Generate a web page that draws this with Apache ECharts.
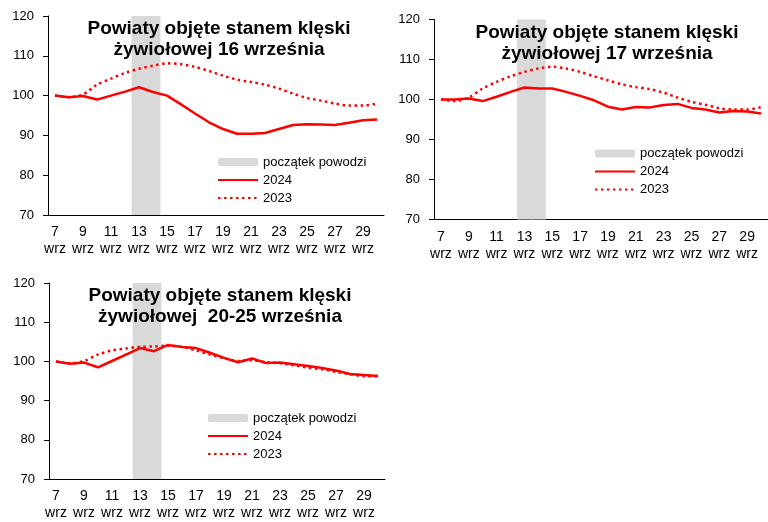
<!DOCTYPE html>
<html>
<head>
<meta charset="utf-8">
<script src="https://cdn.jsdelivr.net/npm/echarts@6/dist/echarts.min.js"></script>
<style>
  html, body { margin: 0; padding: 0; background: #fff; }
  #chart { width: 768px; height: 522px; }
</style>
</head>
<body>
<div id="chart"></div>
<script>
// Categories: days of September
const days = ['7','8','9','10','11','12','13','14','15','16','17','18','19','20','21','22','23','24','25','26','27','28','29','30'];
const monthLabel = 'wrz';
const yTicks = { min: 70, max: 120, interval: 10 };

// Flood start (13-14 Sept) marker
const floodDays = ['13', '14'];
const floodTop = 120;

// Panel 1: counties under natural disaster status from 16 Sept
const p1_2024 = [100, 99.6, 99.9, 99.0, 100.0, 101.0, 102.1, 100.9, 100.0, 97.8, 95.5, 93.3, 91.6, 90.4, 90.4, 90.6, 91.6, 92.6, 92.8, 92.75, 92.6, 93.2, 93.8, 94.0];
const p1_2023 = [100, 99.6, 100.3, 102.75, 104.25, 105.7, 106.75, 107.5, 108.1, 107.9, 107.2, 106.2, 105.0, 104.0, 103.4, 102.75, 101.75, 100.5, 99.4, 98.75, 98.0, 97.5, 97.5, 98.0];

// Panel 2: from 17 Sept
const p2_2024 = [100, 100, 100.25, 99.6, 100.7, 101.9, 103.0, 102.75, 102.75, 101.9, 100.9, 99.8, 98.2, 97.5, 98.1, 98.0, 98.6, 98.9, 97.9, 97.5, 96.75, 97.1, 97.0, 96.5];
const p2_2023 = [100, 99.6, 100.5, 102.75, 104.4, 105.8, 106.9, 107.75, 108.2, 107.75, 106.9, 105.8, 104.8, 103.8, 103.1, 102.6, 101.7, 100.5, 99.4, 98.7, 97.8, 97.5, 97.5, 98.1];

// Panel 3: from 20-25 Sept
const p3_2024 = [100, 99.4, 99.7, 98.5, 100.1, 101.75, 103.4, 102.6, 104.2, 103.7, 103.4, 102.2, 100.9, 99.8, 100.75, 99.6, 99.7, 99.3, 98.8, 98.3, 97.7, 96.8, 96.5, 96.3];
const p3_2023 = [100, 99.5, 100.1, 101.75, 102.8, 103.3, 103.7, 103.8, 104.0, 103.7, 102.8, 101.75, 100.8, 100.1, 100.3, 99.8, 99.5, 99.0, 98.4, 98.0, 97.3, 96.75, 96.2, 96.2];

const titles = [
  'Powiaty objęte stanem klęski\nżywiołowej 16 września',
  'Powiaty objęte stanem klęski\nżywiołowej 17 września',
  'Powiaty objęte stanem klęski\nżywiołowej  20-25 września'
];
const legendNames = ['początek powodzi', '2024', '2023'];

const panels = [
  { d24: p1_2024, d23: p1_2023 },
  { d24: p2_2024, d23: p2_2023 },
  { d24: p3_2024, d23: p3_2023 }
];

const floodData = days.map(d => floodDays.includes(d) ? floodTop : null);

const FONT = '"Liberation Sans", Arial, sans-serif';
const RED = '#ff0000';
const GREY = '#d9d9d9';

const grids = [
  { left: 48, top: 16, width: 336, height: 199 },
  { left: 434, top: 19.5, width: 339, height: 200 },
  { left: 49, top: 283, width: 336, height: 199.5 }
];
const titlePos = [
  { left: 219, top: 18 },
  { left: 607, top: 22 },
  { left: 220, top: 285 }
];
const legendPos = [
  { left: 217, top: 153 },
  { left: 594, top: 144.5 },
  { left: 207, top: 409 }
];

const legendData = [
  { name: legendNames[0] },
  { name: legendNames[1], itemStyle: { opacity: 0 } },
  { name: legendNames[2], itemStyle: { opacity: 0 } }
];

const option = {
  animation: false,
  backgroundColor: '#fff',
  title: titles.map((t, i) => ({
    text: t,
    left: titlePos[i].left,
    top: titlePos[i].top,
    textAlign: 'center',
    padding: 0,
    textStyle: { fontFamily: FONT, fontSize: 19, fontWeight: 'bold', color: '#000', lineHeight: 21 }
  })),
  legend: legendPos.map(p => ({
    data: legendData,
    orient: 'vertical',
    left: p.left,
    top: p.top,
    padding: 0,
    itemGap: 0,
    itemWidth: 40,
    itemHeight: 8,
    selectedMode: false,
    textStyle: { fontFamily: FONT, fontSize: 13, color: '#000', lineHeight: 18 }
  })),
  grid: grids,
  xAxis: grids.map((g, i) => ({
    type: 'category',
    gridIndex: i,
    data: days,
    boundaryGap: true,
    axisLine: { lineStyle: { color: '#000', width: 1 } },
    axisTick: { interval: 1, length: 5, lineStyle: { color: '#000' } },
    axisLabel: {
      interval: 1,
      margin: 9,
      fontFamily: FONT,
      fontSize: 14,
      lineHeight: 17,
      color: '#000',
      formatter: v => v + '\n' + monthLabel
    },
    splitLine: { show: false }
  })),
  yAxis: grids.map((g, i) => ({
    type: 'value',
    gridIndex: i,
    min: yTicks.min,
    max: yTicks.max,
    interval: yTicks.interval,
    axisLine: { show: true, lineStyle: { color: '#000', width: 1 } },
    axisTick: { show: true, length: 5, lineStyle: { color: '#000' } },
    axisLabel: { margin: 14, fontFamily: FONT, fontSize: 13, color: '#000' },
    splitLine: { show: false }
  })),
  series: []
};

panels.forEach((p, i) => {
  option.series.push({
    name: legendNames[0],
    type: 'bar',
    xAxisIndex: i,
    yAxisIndex: i,
    data: floodData,
    barWidth: '106%',
    barGap: '0%',
    barCategoryGap: '0%',
    itemStyle: { color: GREY },
    z: 1
  });
  option.series.push({
    name: legendNames[1],
    type: 'line',
    xAxisIndex: i,
    yAxisIndex: i,
    data: p.d24,
    symbol: 'none',
    lineStyle: { color: RED, width: 2.5, type: 'solid' },
    itemStyle: { color: RED },
    z: 4
  });
  option.series.push({
    name: legendNames[2],
    type: 'line',
    xAxisIndex: i,
    yAxisIndex: i,
    data: p.d23,
    symbol: 'none',
    smooth: 0.3,
    lineStyle: { color: RED, width: 2.5, type: [2.5, 3.5] },
    itemStyle: { color: RED },
    z: 3
  });
});

const chart = echarts.init(document.getElementById('chart'), null, { renderer: 'canvas' });
chart.setOption(option);
</script>
</body>
</html>
